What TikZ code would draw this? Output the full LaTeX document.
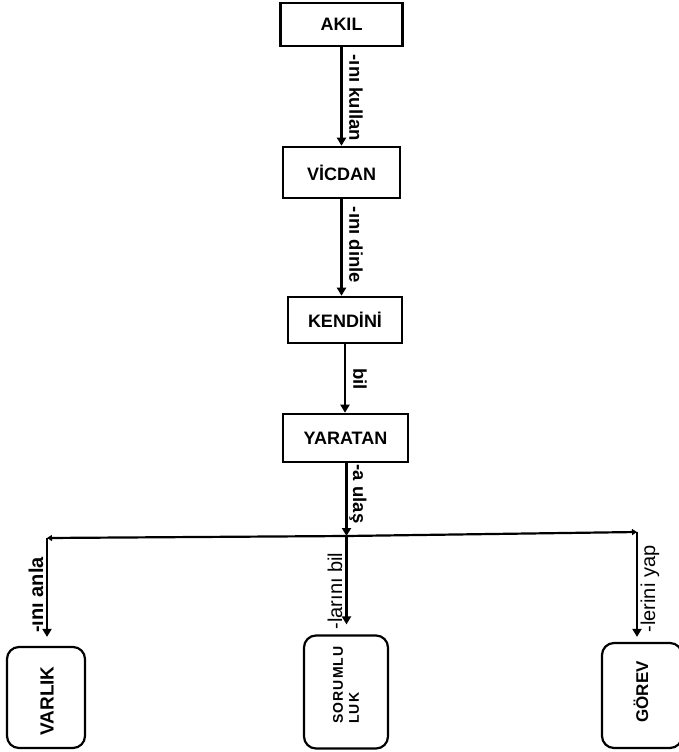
\documentclass[tikz,border=0pt]{standalone}
\usepackage{fontspec}
\setmainfont{Liberation Sans}
\newfontfamily\spacedfont[LetterSpace=8]{Liberation Sans}
\usetikzlibrary{arrows.meta}
\begin{document}
\begin{tikzpicture}[x=1pt,y=-1pt,
  box/.style={draw,line width=2.6pt,inner sep=0pt,font=\bfseries\fontsize{18}{20}\selectfont},
  rbox/.style={draw,line width=2.2pt,rounded corners=12pt,inner sep=0pt},
  conn/.style={line width=2.2pt,-{Triangle[length=8pt,width=9pt]}},
  tip/.style={line width=2.2pt,-{Triangle[length=5pt,width=6pt]}},
  lbl/.style={font=\bfseries\fontsize{18.5}{20}\selectfont,inner sep=0pt},
  lblb/.style={font=\fontsize{20}{22}\selectfont,inner sep=0pt}]
\useasboundingbox (0,0) rectangle (679,752);
\node[box,minimum width=122pt,minimum height=43pt] (akil) at (341.5,24.5) {AKIL};
\node[box,minimum width=117pt,minimum height=51pt] (vicdan) at (341.5,172.5) {VİCDAN};
\node[box,minimum width=114pt,minimum height=46pt] (kendini) at (345,320) {KENDİNİ};
\node[box,minimum width=125pt,minimum height=48pt] (yaratan) at (345.5,438) {YARATAN};
\node[rbox,minimum width=78pt,minimum height=101pt] (varlik) at (46,697.5) {};
\node[rotate=90,font=\bfseries\fontsize{19}{21}\selectfont] (varlikt) at (47,701) {VARLIK};
\node[rbox,minimum width=84pt,minimum height=113pt] (sorum) at (346,692) {};
\node[rotate=90,anchor=north west,font=\spacedfont\bfseries\fontsize{14}{16}\selectfont,align=left,inner sep=0pt] (sorumt) at (333,724) {SORUMLU\\LUK};
\node[rbox,minimum width=80pt,minimum height=105pt] (gorev) at (642,695.5) {};
\node[rotate=90,font=\bfseries\fontsize{17}{20}\selectfont] (gorevt) at (641,692) {GÖREV};
\coordinate (j) at (346.5,536);
\coordinate (L) at (47,538);
\coordinate (R) at (637,532);
\draw[conn] (akil.south) -- (vicdan.north);
\draw[conn] (vicdan.south) -- (vicdan.south |- kendini.north);
\draw[conn] (kendini.south) -- (kendini.south |- yaratan.north);
\draw[conn] (yaratan.south -| j) -- (j);
\draw[tip] (j) -- (L);
\draw[tip] (j) -- (R);
\draw[conn,shorten >=9pt] (L) -- (L |- varlik.north);
\draw[conn,shorten >=10pt] (j) -- (j |- sorum.north);
\draw[conn,shorten >=5pt] (R) -- (R |- gorev.north);
\node[lbl,rotate=-90] (l1) at (356,98) {-ını kullan};
\node[lbl,rotate=-90] (l2) at (356,245) {-ını dinle};
\node[lbl,rotate=-90] (l3) at (360,379) {bil};
\node[lbl,rotate=-90] (l4) at (358,494) {-a ulaş};
\node[lbl,rotate=90,font=\bfseries\fontsize{20}{22}\selectfont] (l5) at (36,595) {-ını anla};
\node[lblb,rotate=90] (l6) at (335,591) {-larını bil};
\node[lblb,rotate=90] (l7) at (650,589) {-lerini yap};
\end{tikzpicture}
\end{document}
